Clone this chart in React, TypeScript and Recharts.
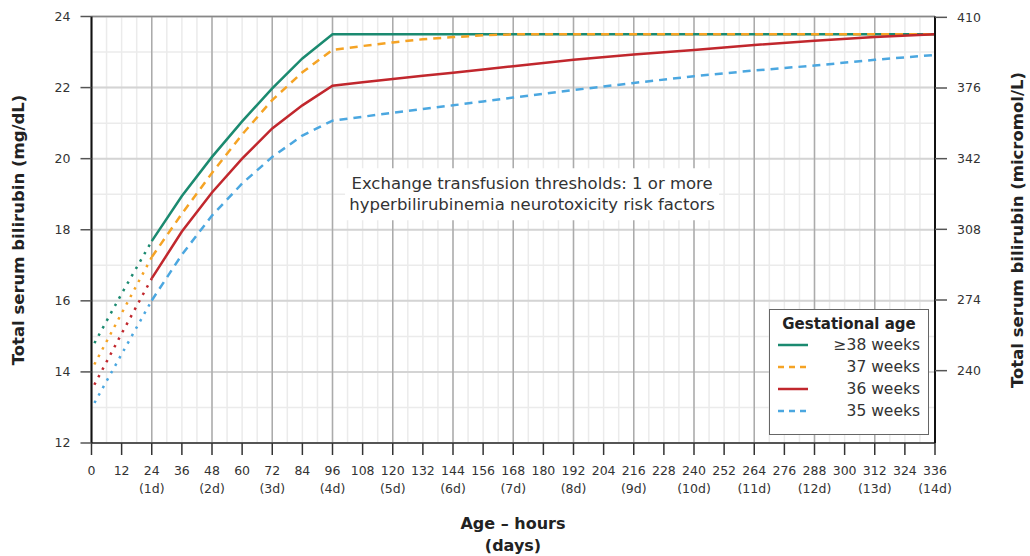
import React from 'react';
import {
  LineChart,
  Line,
  XAxis,
  YAxis,
  CartesianGrid,
  ReferenceLine,
  ReferenceArea,
  Legend,
} from 'recharts';

// hours for the dotted lead-in (0-24h) and for the solid/dashed thresholds
const earlyHours = [0, 12, 24];
const mainHours = [24, 36, 48, 60, 72, 84, 96, 108, 120, 132, 144, 156, 168, 192, 216, 240, 264, 288, 312, 336];

// mg/dL values
const ga38Early = [14.66, 16.2, 17.68];
const ga37Early = [14.06, 15.65, 17.23];
const ga36Early = [13.49, 15.08, 16.63];
const ga35Early = [12.98, 14.5, 16.01];

const ga38 = [17.68, 18.95, 20.05, 21.05, 21.98, 22.82, 23.5, 23.5, 23.5, 23.5, 23.5, 23.5, 23.5, 23.5, 23.5, 23.5, 23.5, 23.5, 23.5, 23.5];
const ga37 = [17.23, 18.45, 19.6, 20.68, 21.65, 22.43, 23.06, 23.17, 23.27, 23.36, 23.42, 23.47, 23.5, 23.5, 23.5, 23.5, 23.5, 23.5, 23.5, 23.5];
const ga36 = [16.63, 17.95, 19.05, 20.0, 20.85, 21.5, 22.05, 22.15, 22.24, 22.33, 22.42, 22.51, 22.6, 22.78, 22.93, 23.06, 23.2, 23.32, 23.42, 23.5];
const ga35 = [16.01, 17.3, 18.4, 19.3, 20.05, 20.65, 21.07, 21.18, 21.29, 21.4, 21.5, 21.61, 21.72, 21.93, 22.13, 22.32, 22.48, 22.62, 22.78, 22.92];

const hourTicks = [0, 12, 24, 36, 48, 60, 72, 84, 96, 108, 120, 132, 144, 156, 168, 180, 192, 204, 216, 228, 240, 252, 264, 276, 288, 300, 312, 324, 336];
const mgTicks = [12, 14, 16, 18, 20, 22, 24];
const umolTicks = [240, 274, 308, 342, 376, 410];
const MG_TO_UMOL = 17.1;

const series = [
  { key: 'ga38', name: '\u226538 weeks', color: '#1b8a70', dash: undefined as string | undefined, early: ga38Early, main: ga38 },
  { key: 'ga37', name: '37 weeks', color: '#f5a324', dash: '8 6', early: ga37Early, main: ga37 },
  { key: 'ga36', name: '36 weeks', color: '#c1272d', dash: undefined as string | undefined, early: ga36Early, main: ga36 },
  { key: 'ga35', name: '35 weeks', color: '#4ba7e0', dash: '8 6', early: ga35Early, main: ga35 },
];

const allHours = Array.from(new Set([...earlyHours, ...mainHours])).sort((a, b) => a - b);
const chartData = allHours.map((hour) => {
  const row: Record<string, number | undefined> = { hour };
  series.forEach((s) => {
    const ei = earlyHours.indexOf(hour);
    const mi = mainHours.indexOf(hour);
    row[s.key + 'Early'] = ei >= 0 ? s.early[ei] : undefined;
    row[s.key] = mi >= 0 ? s.main[mi] : undefined;
  });
  // same threshold in micromol/L, only used to drive the right-hand axis
  row.ga38Umol = row.ga38 !== undefined ? (row.ga38 as number) * MG_TO_UMOL : undefined;
  return row;
});

const minorHours = Array.from({ length: 57 }, (_, i) => i * 6);
const majorHours = Array.from({ length: 15 }, (_, i) => i * 24);
const minorMg = Array.from({ length: 13 }, (_, i) => 12 + i);

const FONT = '"DejaVu Sans", Verdana, sans-serif';

const XTick = (props: any) => {
  const { x, y, payload } = props;
  const h = payload.value;
  return (
    <g>
      <text x={x} y={y + 18} textAnchor="middle" fontSize={12.5} fill="#333" fontFamily={FONT}>
        {h}
      </text>
      {h > 0 && h % 24 === 0 && (
        <text x={x} y={y + 36} textAnchor="middle" fontSize={12.5} fill="#333" fontFamily={FONT}>
          ({h / 24}d)
        </text>
      )}
    </g>
  );
};

const LegendBox = () => (
  <div
    style={{
      boxSizing: 'border-box',
      width: 160,
      height: 126,
      border: '1.5px solid #666',
      background: '#fff',
      fontFamily: FONT,
      color: '#333',
      padding: '4px 8px',
    }}
  >
    <div style={{ fontWeight: 'bold', fontSize: 15, textAlign: 'center', lineHeight: '20px', color: '#222' }}>
      Gestational age
    </div>
    {series.map((s) => (
      <div key={s.key} style={{ display: 'flex', alignItems: 'center', height: 22, fontSize: 15.5 }}>
        <svg width={32} height={10}>
          <line x1={0} y1={5} x2={30} y2={5} stroke={s.color} strokeWidth={2.5} strokeDasharray={s.dash ? '6 5' : undefined} />
        </svg>
        <span style={{ flex: 1, textAlign: 'right' }}>{s.name}</span>
      </div>
    ))}
  </div>
);

const NoteLabel = (props: any) => {
  const { viewBox } = props;
  const cx = viewBox.x + viewBox.width / 2;
  const cy = viewBox.y + viewBox.height / 2;
  return (
    <g fontFamily={FONT} fontSize={16.5} fill="#333" textAnchor="middle">
      <text x={cx} y={cy - 5}>Exchange transfusion thresholds: 1 or more</text>
      <text x={cx} y={cy + 16}>hyperbilirubinemia neurotoxicity risk factors</text>
    </g>
  );
};

export default function App() {
  return (
    <div style={{ position: 'absolute', left: 0, top: 0, background: '#fff' }}>
      <LineChart
        width={1030}
        height={556}
        data={chartData}
        margin={{ top: 16.5, left: 31.5, right: 35, bottom: 53 }}
      >
        <CartesianGrid stroke="#ebebeb" strokeWidth={1.5} verticalValues={minorHours} horizontalValues={minorMg} />
        <CartesianGrid stroke="#d4d4d4" strokeWidth={2} vertical={false} horizontalValues={mgTicks} />
        <CartesianGrid stroke="#ababab" strokeWidth={1.5} horizontal={false} verticalValues={majorHours} />
        <XAxis
          type="number"
          dataKey="hour"
          domain={[0, 336]}
          ticks={hourTicks}
          interval={0}
          height={60}
          tickSize={12}
          axisLine={{ stroke: '#555', strokeWidth: 2 }}
          tickLine={{ stroke: '#333', strokeWidth: 1.5 }}
          tick={<XTick />}
          label={{
            content: () => (
              <g fontFamily={FONT} fontWeight="bold" fontSize={16} fill="#222" textAnchor="middle">
                <text x={513} y={529}>Age – hours</text>
                <text x={513} y={551}>(days)</text>
              </g>
            ),
          }}
        />
        <YAxis
          type="number"
          domain={[12, 24]}
          ticks={mgTicks}
          interval={0}
          width={60}
          tickSize={11}
          tickMargin={10}
          axisLine={{ stroke: '#111', strokeWidth: 2 }}
          tickLine={{ stroke: '#555', strokeWidth: 1.5 }}
          tick={{ fontSize: 12.5, fill: '#333', fontFamily: FONT }}
          label={{
            content: () => (
              <text
                x={0}
                y={0}
                transform="translate(24 230) rotate(-90)"
                textAnchor="middle"
                fontFamily={FONT}
                fontWeight="bold"
                fontSize={16.5}
                fill="#222"
              >
                Total serum bilirubin (mg/dL)
              </text>
            ),
          }}
        />
        <YAxis
          yAxisId="right"
          orientation="right"
          type="number"
          domain={[12 * MG_TO_UMOL, 24 * MG_TO_UMOL]}
          allowDataOverflow
          ticks={umolTicks}
          interval={0}
          width={60}
          tickSize={12}
          tickMargin={10}
          axisLine={{ stroke: '#111', strokeWidth: 2 }}
          tickLine={{ stroke: '#555', strokeWidth: 1.5 }}
          tick={{ fontSize: 12.5, fill: '#333', fontFamily: FONT }}
          label={{
            content: () => (
              <text
                x={0}
                y={0}
                transform="translate(1023 230) rotate(-90)"
                textAnchor="middle"
                fontFamily={FONT}
                fontWeight="bold"
                fontSize={16.5}
                fill="#222"
              >
                Total serum bilirubin (micromol/L)
              </text>
            ),
          }}
        />
        <ReferenceLine y={24} stroke="#888" strokeWidth={1.5} />
        <ReferenceArea
          x1={101}
          x2={250}
          y1={18.27}
          y2={19.73}
          fill="#fff"
          fillOpacity={1}
          stroke="none"
          label={<NoteLabel />}
        />
        <Line
          yAxisId="right"
          dataKey="ga38Umol"
          stroke="none"
          strokeOpacity={0}
          dot={false}
          activeDot={false}
          legendType="none"
          isAnimationActive={false}
        />
        {series.map((s) => (
          <Line
            key={s.key + 'Early'}
            dataKey={s.key + 'Early'}
            stroke={s.color}
            strokeWidth={2.5}
            strokeDasharray="2.5 6"
            strokeDashoffset={2.5}
            dot={false}
            legendType="none"
            isAnimationActive={false}
          />
        ))}
        {series.map((s) => (
          <Line
            key={s.key}
            dataKey={s.key}
            name={s.name}
            stroke={s.color}
            strokeWidth={2.5}
            strokeDasharray={s.dash}
            dot={false}
            isAnimationActive={false}
          />
        ))}
        <Legend
          layout="horizontal"
          verticalAlign="middle"
          align="center"
          content={<LegendBox />}
          wrapperStyle={{ left: 769, top: 309, width: 160, height: 126 }}
        />
      </LineChart>
    </div>
  );
}
